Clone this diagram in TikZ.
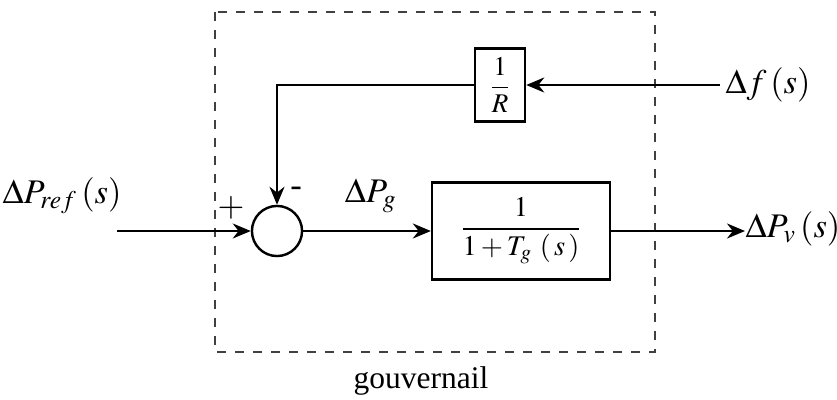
\documentclass[tikz,border=0pt]{standalone}
\usepackage{amsmath}
\usepackage{mathptmx}
\usepackage[no-math]{fontspec}
\setmainfont{Liberation Serif}
\usepackage{tikz}
\usetikzlibrary{arrows.meta}

\tikzset{
  blk/.style={draw, thick, fill=white, inner sep=0pt},
  sumnode/.style={draw, circle, thick, minimum size=16.7pt, inner sep=0pt},
  sig/.style={thick, -{Stealth[length=6pt,width=5pt]}},
}

\begin{document}
\begin{tikzpicture}[x=0.3333pt, y=-0.3333pt, font=\fontsize{11.5}{13}\selectfont]
  \useasboundingbox (0, 0) rectangle (837, 399);

  % governor frame
  \draw[thick, dashed, draw=black!75] (215, 12) rectangle (655, 352);
  \node[font=\fontsize{10.5}{12}\selectfont] (gouv) at (421, 381) {gouvernail};

  % blocks
  \node[sumnode] (sum) at (277, 231) {};
  \node[blk, minimum width=16.7pt, minimum height=24.3pt] (gainR) at (500, 85)
    {\fontsize{9}{10}\selectfont$\dfrac{1}{R}$};
  \node[blk, minimum width=59.3pt, minimum height=32.3pt] (gov) at (521, 231)
    {\fontsize{9.5}{11}\selectfont$\dfrac{1}{1+T_g\ (\,s\,)}$};

  % free ends
  \coordinate (in) at (117, 231);
  \coordinate (out) at (745, 231);
  \coordinate (fin) at (720, 85);

  % signals
  \draw[sig] (in) -- (sum);
  \draw[sig] (sum) -- (gov);
  \draw[sig] (gov) -- (out);
  \draw[sig] (fin) -- (gainR);
  \draw[sig] (gainR) -| (sum);

  % labels
  \node (lref) at (62, 196) {$\Delta P_{ref}\,(s)$};
  \node (lf) at (768, 85) {$\Delta f\,(s)$};
  \node (lv) at (793, 229) {$\Delta P_v\,(s)$};
  \node (lg) at (371, 196) {$\Delta P_g$};
  \node (lplus) at (231, 208) {$+$};
  \node (lminus) at (296, 192) {-};
\end{tikzpicture}
\end{document}
